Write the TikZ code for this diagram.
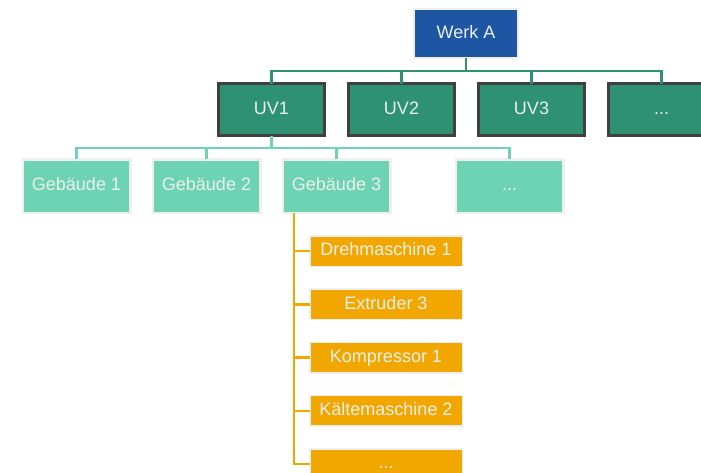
\documentclass[tikz,border=0pt]{standalone}
\usepackage{fontspec}
\setmainfont{Liberation Sans}
\definecolor{werkblue}{HTML}{1F56A4}
\definecolor{uvgreen}{HTML}{2E9171}
\definecolor{uvborder}{HTML}{404040}
\definecolor{gebgreen}{HTML}{6ED3B2}
\definecolor{machorange}{HTML}{F1A700}
\definecolor{lightframe}{HTML}{EFEFEF}
\definecolor{txtcol}{HTML}{EAF1EC}
\begin{document}
\begin{tikzpicture}[x=1pt,y=-1pt,
  box/.style={draw, outer sep=0pt, inner sep=0pt, text=txtcol,
    font=\fontsize{18}{20}\selectfont, text height=13pt, text depth=3.5pt},
  werkbox/.style={box, fill=werkblue, draw=lightframe, line width=2pt,
    minimum width=104pt, minimum height=49pt},
  uvbox/.style={box, fill=uvgreen, draw=uvborder, line width=3pt,
    minimum width=106pt, minimum height=52pt},
  gebbox/.style={box, fill=gebgreen, draw=lightframe, line width=2.5pt,
    minimum width=107.5pt, minimum height=53.5pt},
  machbox/.style={box, fill=machorange, draw=lightframe, line width=1.5pt,
    minimum width=152.5pt, minimum height=30.5pt},
  conA/.style={draw=uvgreen, line width=2.5pt},
  conB/.style={draw=gebgreen, line width=2.5pt},
  conC/.style={draw=machorange, line width=2.5pt}]
\useasboundingbox (0,0) rectangle (701,472);
\fill[white] (0,0) rectangle (701,472);

\coordinate (bus1) at (466,71);
\coordinate (bus2) at (271.5,148);
\coordinate (spine) at (294,0);

\node[werkbox] (werk) at (466,33.5) {Werk A};
\node[uvbox] (uv1) at (271.5,109.5) {UV1};
\node[uvbox] (uv2) at (401.5,109.5) {UV2};
\node[uvbox] (uv3) at (531.5,109.5) {UV3};
\node[uvbox] (uv4) at (661.5,109.5) {...};

\node[gebbox] (geb1) at (76.5,186) {Gebäude 1};
\node[gebbox] (geb2) at (206.5,186) {Gebäude 2};
\node[gebbox] (geb3) at (336.5,186) {Gebäude 3};
\node[gebbox] (geb4) at (509.5,186) {...};

\node[machbox] (m1) at (386,251) {Drehmaschine 1};
\node[machbox] (m2) at (386,304.25) {Extruder 3};
\node[machbox] (m3) at (386,357.5) {Kompressor 1};
\node[machbox] (m4) at (386,410.75) {Kältemaschine 2};
\node[machbox] (m5) at (386,464) {...};

\draw[conA] (werk.south) -- (bus1);
\draw[conA] (uv1.north) |- (bus1) -| (uv4.north);
\draw[conA] (uv2.north) -- (uv2.north |- bus1);
\draw[conA] (uv3.north) -- (uv3.north |- bus1);

\draw[conB] (uv1.south) -- (bus2);
\draw[conB] (geb1.north) |- (bus2) -| (geb4.north);
\draw[conB] (geb2.north) -- (geb2.north |- bus2);
\draw[conB] (geb3.north) -- (geb3.north |- bus2);

\draw[conC] (geb3.south -| spine) |- (m5.west);
\draw[conC] (m1.west) -- (m1.west -| spine);
\draw[conC] (m2.west) -- (m2.west -| spine);
\draw[conC] (m3.west) -- (m3.west -| spine);
\draw[conC] (m4.west) -- (m4.west -| spine);
\end{tikzpicture}
\end{document}
